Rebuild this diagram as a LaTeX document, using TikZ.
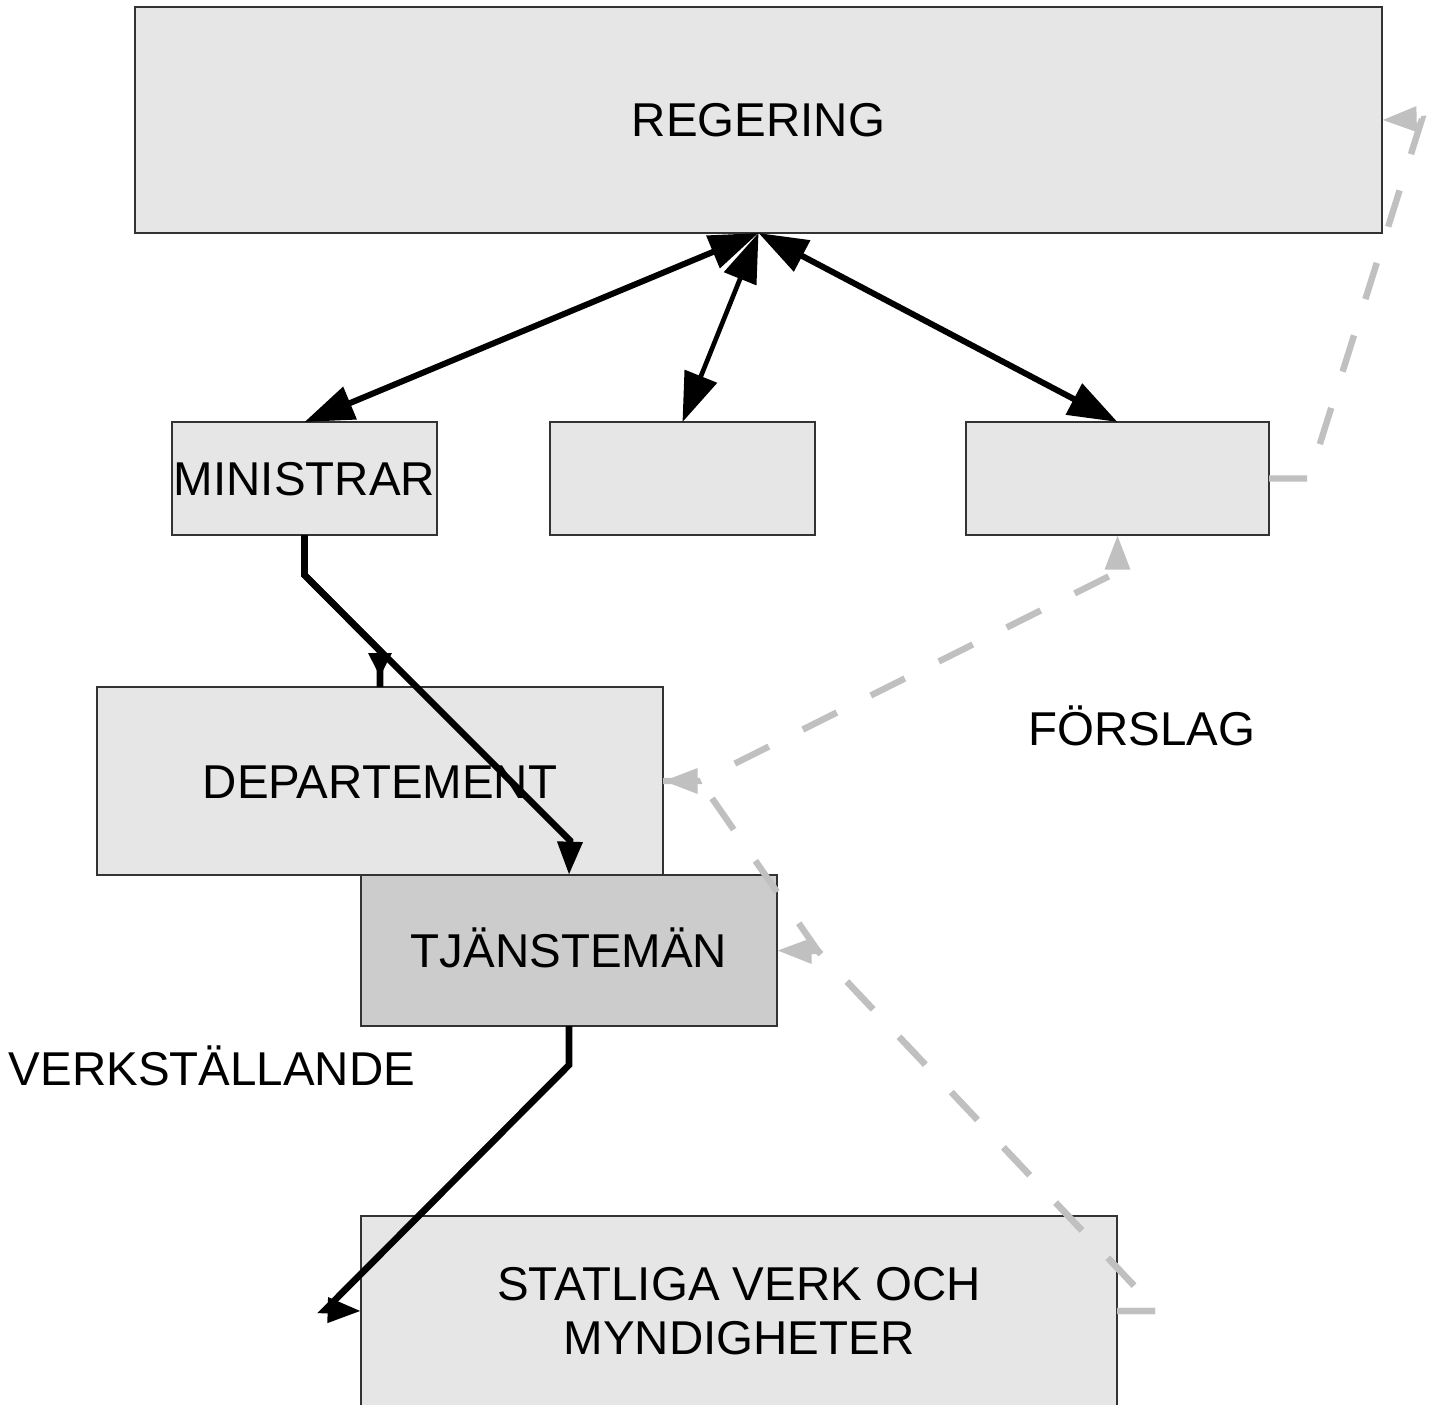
\documentclass[tikz,border=0pt]{standalone}
\usepackage{fontspec}
\setmainfont{Liberation Sans}
\usetikzlibrary{arrows.meta,decorations.markings}
\definecolor{boxfill}{HTML}{E6E6E6}
\definecolor{boxdark}{HTML}{CCCCCC}
\definecolor{dashgray}{HTML}{C0C0C0}
\begin{document}
\begin{tikzpicture}[x=0.75pt,y=-0.75pt,
  box/.style={draw=black!80, line width=0.9pt, fill=boxfill, inner sep=0pt, outer sep=0pt,
    font=\fontsize{35.6pt}{41pt}\selectfont},
  oneline/.style={text height=25.5pt, text depth=0pt},
  lbl/.style={inner sep=0pt, font=\fontsize{35.6pt}{41pt}\selectfont, text height=25.5pt, text depth=0pt},
  bigarrow/.style={line width=4.5pt, line cap=butt,
    {Triangle[length=37pt,width=25.5pt]}-{Triangle[length=37pt,width=25.5pt]}},
  blackconn/.style={line width=5pt, line join=miter, -{Triangle[length=25pt,width=18pt]}},
  grayconn/.style={draw=dashgray, line width=4.8pt, dash pattern=on 28.5pt off 28.5pt,
    -{Triangle[length=26pt,width=18pt]}}
]
\useasboundingbox (0,0) rectangle (1438,1405);
\fill[white] (0,0) rectangle (1438,1405);

% boxes
\node[box, oneline, minimum width=935.25pt, minimum height=169.5pt] (reg) at (758.5,120) {REGERING};
\node[box, oneline, minimum width=198.75pt, minimum height=84.75pt] (min) at (304.5,478.5) {MINISTRAR};
\node[box, minimum width=198.75pt, minimum height=84.75pt] (mid) at (682.5,478.5) {};
\node[box, minimum width=227.25pt, minimum height=84.75pt] (rgt) at (1117.5,478.5) {};
\node[box, oneline, minimum width=424.5pt, minimum height=141pt] (dep) at (380,781) {DEPARTEMENT};
\node[box, oneline, fill=boxdark, minimum width=312pt, minimum height=113.25pt] (tj) at (569,950.5) {TJÄNSTEMÄN};
\node[box, align=center, minimum width=567pt, minimum height=142.5pt] (stat) at (739,1311) {STATLIGA VERK OCH\\MYNDIGHETER};

% labels
\node[lbl] (verk) at (212,1068) {VERKSTÄLLANDE};
\node[lbl] (fors) at (1142,728) {FÖRSLAG};

% double arrows from REGERING
\draw[bigarrow] (reg.south) -- (min.north);
\draw[bigarrow, line width=3.5pt] (reg.south) -- (mid.north);
\draw[bigarrow] (reg.south) -- (rgt.north);

% black connectors
\coordinate (m1) at (304.5,575);
\coordinate (m2) at (570,840.5);
\coordinate (m3) at (380,651);
\draw[line width=5pt, line join=miter,
  postaction={decorate},
  decoration={markings, mark=at position -7.5pt with {\arrow{Triangle[length=18pt,width=16.5pt]}}}]
  (min.south) -- (m1) -- (m3) -- (dep.north);
\draw[blackconn] (min.south) -- (m1) -- (m2) -- (tj.north);

\coordinate (t1) at (569,1065);
\coordinate (t2) at (325,1310);
\draw[blackconn] (tj.south) -- (t1) -- (t2) -- (stat.west);

% gray dashed connectors
\coordinate (r1) at (1309,478.5);
\coordinate (r2) at (1422,119);
\draw[grayconn] (rgt.east) -- (r1) -- (r2) -- (reg.east);

\coordinate (d1) at (700,781);
\coordinate (d2) at (1117.5,572);
\draw[grayconn] (dep.east) -- (d1) -- (d2) -- (rgt.south);

\coordinate (s1) at (1158,1311);
\coordinate (s2) at (818,951);
\draw[grayconn] (stat.east) -- (s1) -- (s2) -- (tj.east);
\draw[grayconn] (stat.east) -- (s1) -- (s2) -- (d1) -- (dep.east);
\end{tikzpicture}
\end{document}
